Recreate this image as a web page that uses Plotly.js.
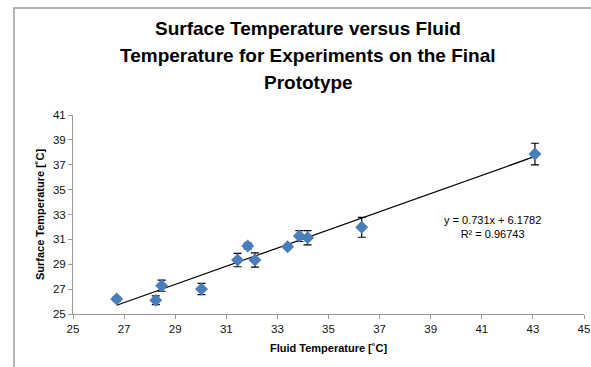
<!DOCTYPE html>
<html>
<head>
<meta charset="utf-8">
<script src="https://cdn.plot.ly/plotly-3.0.1.min.js"></script>
<style>
html,body{margin:0;padding:0;background:#fff;}
#wrap{position:relative;width:591px;height:367px;}
#chart{width:591px;height:367px;}
#frame{position:absolute;left:13px;top:7px;right:0;bottom:0;border-left:2px solid #b4b4b4;border-top:2px solid #b4b4b4;pointer-events:none;}
</style>
</head>
<body>
<div id="wrap">
<div id="chart"></div>
<div id="frame"></div>
</div>
<script>
// Data
const fluidTemp   = [26.71, 28.24, 28.47, 30.03, 31.44, 31.84, 32.12, 33.40, 33.86, 34.18, 36.30, 43.08];
const surfaceTemp = [26.20, 26.10, 27.28, 27.01, 29.34, 30.47, 29.34, 30.41, 31.27, 31.13, 31.97, 37.86];
const surfaceErr  = [0.15, 0.35, 0.45, 0.45, 0.54, 0.23, 0.57, 0.10, 0.44, 0.58, 0.80, 0.87];
const slope = 0.731;
const intercept = 6.1782;
const rSquared = "0.96743";
const xTicks = [25, 27, 29, 31, 33, 35, 37, 39, 41, 43, 45];
const yTicks = [25, 27, 29, 31, 33, 35, 37, 39, 41];
const titleLines = ['Surface Temperature versus Fluid', 'Temperature for Experiments on the Final', 'Prototype'];

const xMin = Math.min(...fluidTemp), xMax = Math.max(...fluidTemp);
const trendX = [xMin, xMax];
const trendY = trendX.map(v => slope * v + intercept);

const FONT = "Liberation Sans, Arial, sans-serif";

const traces = [
  {
    x: trendX, y: trendY, type: 'scatter', mode: 'lines',
    line: {color: '#000000', width: 1.2}, hoverinfo: 'skip', showlegend: false
  },
  {
    x: fluidTemp, y: surfaceTemp, type: 'scatter', mode: 'markers',
    marker: {symbol: 'diamond', size: 10, color: '#4a7ebb'},
    error_y: {type: 'data', array: surfaceErr, visible: true, color: '#000000', thickness: 1.2, width: 4},
    showlegend: false
  }
];

const titleY = [1.437, 1.298, 1.163];
const titleAnn = titleLines.map((t, i) => ({
  xref: 'paper', yref: 'paper', x: 0.46, y: titleY[i], xanchor: 'center', yanchor: 'middle',
  text: t, showarrow: false,
  font: {family: FONT, size: 19, color: '#000000', weight: 'bold'}
}));

const layout = {
  width: 591, height: 367,
  margin: {l: 73, r: 7, t: 115, b: 53},
  paper_bgcolor: '#ffffff', plot_bgcolor: '#ffffff',
  font: {family: FONT, color: '#000000', size: 11},
  showlegend: false,
  xaxis: {
    range: [25, 45], tickvals: xTicks, ticktext: xTicks.map(String),
    showgrid: false, zeroline: false, showline: true, linecolor: '#9a9a9a', linewidth: 1,
    ticks: 'outside', ticklen: 4, tickcolor: '#9a9a9a',
    tickfont: {family: FONT, size: 11.5, color: '#111111'},
    title: {text: 'Fluid Temperature [˚C]', font: {family: FONT, size: 11, color: '#000000', weight: 'bold'}, standoff: 10}
  },
  yaxis: {
    range: [25, 41], tickvals: yTicks, ticktext: yTicks.map(String),
    showgrid: false, zeroline: false, showline: true, linecolor: '#9a9a9a', linewidth: 1,
    ticks: 'outside', ticklen: 4, tickcolor: '#9a9a9a',
    tickfont: {family: FONT, size: 11.5, color: '#111111'},
    title: {text: 'Surface Temperature [˚C]', font: {family: FONT, size: 11, color: '#000000', weight: 'bold'}, standoff: 6}
  },
  annotations: titleAnn.concat([
    {
      xref: 'x', yref: 'y', x: 41.4, y: 32.0,
      text: 'y = ' + slope + 'x + ' + intercept + '<br>R² = ' + rSquared,
      showarrow: false, font: {family: FONT, size: 11, color: '#000000'}, align: 'center'
    }
  ])
};

Plotly.newPlot('chart', traces, layout, {displayModeBar: false, staticPlot: true});
</script>
</body>
</html>
